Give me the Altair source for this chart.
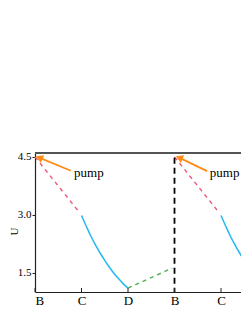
import altair as alt
import pandas as pd

# ---- data ----
tick_pos = [0, 1, 2, 3, 4]
tick_labels = ["B", "C", "D", "B", "C"]
u_ticks = [1.5, 3.0, 4.5]

cycle_b = [0, 3]   # B positions (pump)
cycle_c = [1, 4]   # C positions

red_dx = [0.0, 0.93]
red_u = [4.5, 3.1]

blue_dx = [0.0, 0.1, 0.2, 0.3, 0.4, 0.5, 0.6, 0.7, 0.8, 0.9, 1.0]
blue_u = [2.98, 2.71, 2.45, 2.22, 2.01, 1.82, 1.64, 1.48, 1.34, 1.21, 1.10]

green_x = [2.0, 2.95]
green_u = [1.10, 1.62]

reset_x = [3.0]
reset_top = [4.48]
reset_bottom = [1.0]

arrow_tail_x = [0.77, 3.70]
arrow_tail_u = [4.14, 4.13]
arrow_head_x = [0.09, 3.10]
arrow_head_u = [4.48, 4.48]
label_x = [0.84, 3.76]
label_u = [3.98, 3.98]
label_text = ["pump", "pump"]

# ---- frames ----
red_df = pd.DataFrame(
    [{"x": b + dx, "y": u, "seg": i} for i, b in enumerate(cycle_b) for dx, u in zip(red_dx, red_u)]
)
blue_df = pd.DataFrame(
    [{"x": c + dx, "y": u, "seg": i} for i, c in enumerate(cycle_c) for dx, u in zip(blue_dx, blue_u)]
)
green_df = pd.DataFrame({"x": green_x, "y": green_u})
reset_df = pd.DataFrame({"x": reset_x, "y": reset_top, "y2": reset_bottom})
arrow_df = pd.DataFrame({"x": arrow_tail_x, "y": arrow_tail_u, "x2": arrow_head_x, "y2": arrow_head_u})
head_df = pd.DataFrame({"x": arrow_head_x, "y": arrow_head_u})
label_df = pd.DataFrame({"x": label_x, "y": label_u, "t": label_text})
tick_df = pd.DataFrame({"x": tick_pos})

FONT = "Liberation Serif"
label_expr = "[" + ",".join(f"'{t}'" for t in tick_labels) + "][round(datum.value)]"

W, H = 206, 139

x_scale = alt.Scale(domain=[0, 4.43], nice=False, zero=False)
y_scale = alt.Scale(domain=[1.0, 4.6], nice=False, zero=False)
x_axis = alt.Axis(values=tick_pos, labelExpr=label_expr, ticks=False, tickSize=0,
                  labelPadding=2, labelFont=FONT, labelFontSize=13, labelColor="black",
                  domainColor="#222", domainWidth=1.2, grid=False, title=None)
y_axis = alt.Axis(values=u_ticks, format=".1f", tickSize=3, tickColor="#222", labelPadding=1,
                  labelFont=FONT, labelFontSize=11, labelColor="black",
                  domainColor="#222", domainWidth=1.2, grid=False,
                  title="U", titleFont=FONT, titleFontSize=11, titleFontWeight="normal",
                  titleColor="black", titleX=-18, titleY=78, titleBaseline="alphabetic")


def X(f="x"):
    return alt.X(f, type="quantitative", scale=x_scale, axis=x_axis)


def Y(f="y"):
    return alt.Y(f, type="quantitative", scale=y_scale, axis=y_axis)


red = alt.Chart(red_df).mark_line(color="#ef5675", strokeWidth=1.4, strokeDash=[4, 4]).encode(
    x=X(), y=Y(), detail="seg:N")
blue = alt.Chart(blue_df).mark_line(color="#22b8f2", strokeWidth=1.5, interpolate="monotone",
                                    clip=True).encode(x=X(), y=Y(), detail="seg:N")
green = alt.Chart(green_df).mark_line(color="#4caf50", strokeWidth=1.4, strokeDash=[4, 4]).encode(
    x=X(), y=Y())
reset = alt.Chart(reset_df).mark_rule(color="black", strokeWidth=1.8, strokeDash=[6, 4]).encode(
    x=X(), y=Y(), y2="y2")
arrow = alt.Chart(arrow_df).mark_rule(color="#ff8b17", strokeWidth=1.8).encode(
    x=X(), y=Y(), x2="x2", y2="y2")
head = alt.Chart(head_df).mark_point(shape="triangle-up", filled=True, color="#ff8b17", opacity=1,
                                     size=70, angle=293).encode(x=X(), y=Y())
labels = alt.Chart(label_df).mark_text(align="left", baseline="alphabetic", font=FONT,
                                       fontSize=13, color="black").encode(x=X(), y=Y(), text="t")
xticks = alt.Chart(tick_df).mark_rule(color="#222", strokeWidth=1).encode(
    x=X(), y=alt.value(H), y2=alt.value(H - 4))
top = alt.Chart(tick_df).mark_rule(color="#555", strokeWidth=1.4).encode(y=alt.value(0))

chart = alt.layer(red, blue, green, reset, arrow, head, labels, xticks, top).properties(
    width=W, height=H,
    autosize=alt.AutoSizeParams(type="none"),
    padding={"left": 27, "top": 145, "right": 0, "bottom": 14},
).configure_view(stroke=None)

chart.save("out.html", embed_options={"renderer": "svg", "actions": False})
